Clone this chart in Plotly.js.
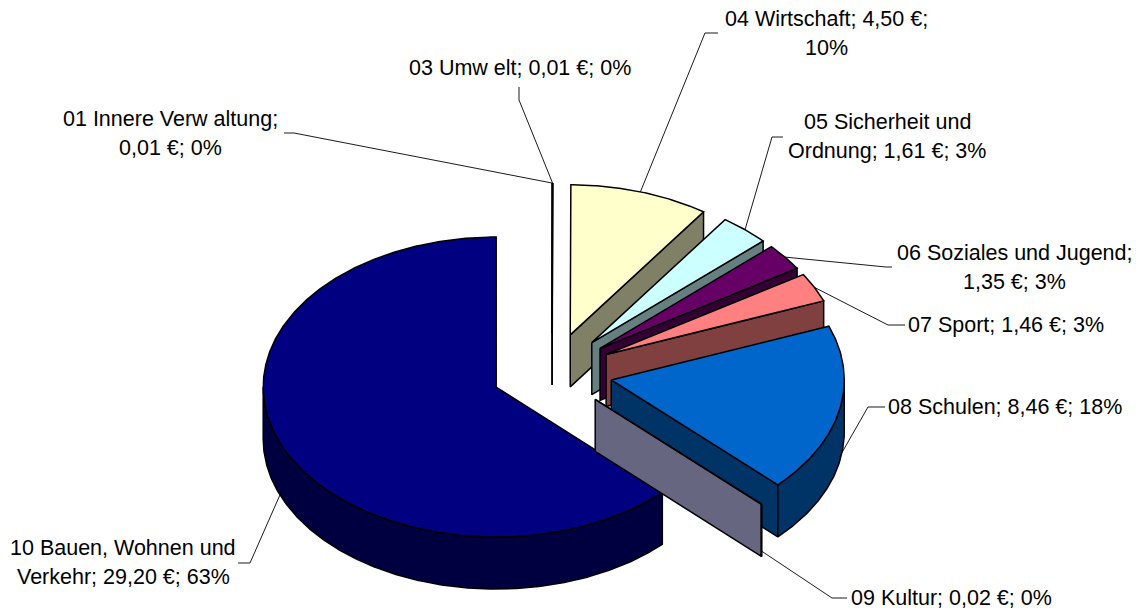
<!DOCTYPE html>
<html><head><meta charset="utf-8">
<script src="https://cdn.plot.ly/plotly-3.0.1.min.js"></script>
<style>html,body{margin:0;padding:0;background:#fff}</style>
</head><body>
<div id="chart" style="width:1136px;height:611px"></div>
<script>
// ---- data ----
const categories = ["01 Innere Verw altung", "03 Umw elt", "04 Wirtschaft", "05 Sicherheit und Ordnung",
  "06 Soziales und Jugend", "07 Sport", "08 Schulen", "09 Kultur", "10 Bauen, Wohnen und Verkehr"];
const values = [0.01, 0.01, 4.50, 1.61, 1.35, 1.46, 8.46, 0.02, 29.20];
const topColors = ["#9999FF", "#993366", "#FFFFCC", "#CCFFFF", "#660066", "#FF8080", "#0066CC", "#CCCCFF", "#000080"];
const sideColors = ["#4C4C80", "#4C1933", "#808066", "#668080", "#330033", "#804040", "#003366", "#666680", "#000040"];

// ---- layout of the tilted 3D pie (pixel units on hidden axes) ----
const pie = {cx: 552, cy: 372, rx: 233, ry: 150, depth: 52, explode: 60.5};
const labelPos = [[170,133],[520,68],[826,33],[887,136],[1014,267],[1006,325],[1005,407],[951,598],[123,562]];
const lineGap = 29;
const wrapAfter = [4, 0, 4, 3, 4, 0, 0, 0, 4];
const leaderStart = [[[284,133],[294,133]], [[519,87],[519,100]], [[718,33],[705,33]], [[783,137],[772,137]],
  [[892,267],[886,267]], [[905,325],[888,325]], [[885,407],[868,407]], [[847,598],[832,598]], [[238,563],[250,563]]];

const total = values.reduce((a, b) => a + b, 0);
const rad = d => d * Math.PI / 180;

// slice angles (clockwise from 12 o'clock)
let acc = 0;
const slices = values.map((v, i) => {
  const s = acc / total * 360; acc += v; const e = acc / total * 360;
  const m = (s + e) / 2;
  const vx = pie.cx + pie.explode * Math.sin(rad(m));
  const vy = pie.cy - pie.explode * (pie.ry / pie.rx) * Math.cos(rad(m));
  return {i, s, e, m, vx, vy};
});

function P(sl, a, dz) { return [sl.vx + pie.rx * Math.sin(rad(a)), sl.vy - pie.ry * Math.cos(rad(a)) + (dz || 0)]; }
function arc(sl, a, b, dz) {
  const n = Math.max(2, Math.ceil(Math.abs(b - a) / 0.5));
  const pts = [];
  for (let k = 0; k <= n; k++) pts.push(P(sl, a + (b - a) * k / n, dz));
  return pts;
}
function poly(pts, fill) {
  const c = pts.concat([pts[0]]);
  return {type: 'scatter', mode: 'lines', x: c.map(p => p[0]), y: c.map(p => p[1]),
    fill: 'toself', fillcolor: fill, line: {color: '#000', width: 1.5}, hoverinfo: 'skip', showlegend: false};
}

const traces = [];
const D = pie.depth;
slices.slice().sort((a, b) => a.vy - b.vy).forEach(sl => {
  const V = [sl.vx, sl.vy], Vd = [sl.vx, sl.vy + D];
  if (Math.sin(rad(sl.s)) < -1e-9) {
    traces.push(poly([V, P(sl, sl.s), P(sl, sl.s, D), Vd], sideColors[sl.i]));
  }
  if (Math.sin(rad(sl.e)) > 1e-9) {
    traces.push(poly([V, P(sl, sl.e), P(sl, sl.e, D), Vd], sideColors[sl.i]));
  }
  const a = Math.max(sl.s, 90), b = Math.min(sl.e, 270);
  if (a < b) {
    traces.push(poly(arc(sl, a, b, 0).concat(arc(sl, b, a, D)), sideColors[sl.i]));
  }
  traces.push(poly([V].concat(arc(sl, sl.s, sl.e, 0)), topColors[sl.i]));
});

// leader lines
slices.forEach(sl => {
  const front = Math.cos(rad(sl.m)) < 0;
  const end = P(sl, sl.m, front ? 0.9 * D : 0);
  const pts = leaderStart[sl.i].concat([end]);
  traces.push({type: 'scatter', mode: 'lines', x: pts.map(p => p[0]), y: pts.map(p => p[1]),
    line: {color: '#000', width: 0.9}, hoverinfo: 'skip', showlegend: false});
});

// labels
const fmt = v => v.toFixed(2).replace('.', ',');
const annotations = [];
slices.forEach(sl => {
  const v = values[sl.i];
  const txt = `${categories[sl.i]}; ${fmt(v)} €; ${Math.round(v / total * 100)}%`;
  const tok = txt.split(' ');
  const k = wrapAfter[sl.i];
  const lines = k > 0 ? [tok.slice(0, k).join(' '), tok.slice(k).join(' ')] : [txt];
  lines.forEach((t, j) => {
    const off = (j - (lines.length - 1) / 2) * lineGap;
    annotations.push({x: labelPos[sl.i][0], y: labelPos[sl.i][1] + off, xref: 'x', yref: 'y', text: t,
      showarrow: false, xanchor: 'center', yanchor: 'middle', align: 'center',
      font: {family: 'Liberation Sans, Arial, sans-serif', size: 21.5, color: '#000'}});
  });
});

Plotly.newPlot('chart', traces, {
  width: 1136, height: 611, margin: {l: 0, r: 0, t: 0, b: 0},
  paper_bgcolor: '#fff', plot_bgcolor: '#fff', showlegend: false,
  xaxis: {range: [0, 1136], visible: false, fixedrange: true},
  yaxis: {range: [611, 0], visible: false, fixedrange: true},
  annotations
}, {displayModeBar: false, staticPlot: true});
</script>
</body></html>
